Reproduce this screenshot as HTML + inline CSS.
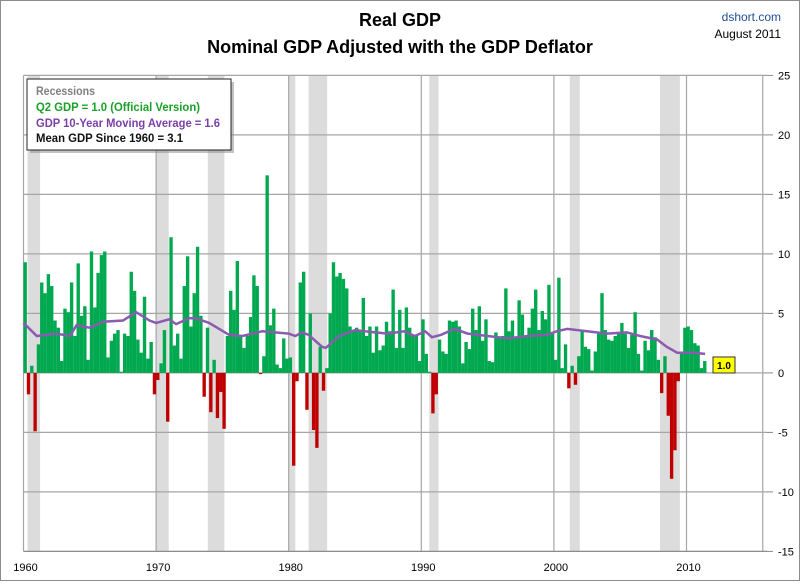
<!DOCTYPE html>
<html><head><meta charset="utf-8"><style>
body{margin:0;background:#fff;}
svg text{font-family:"Liberation Sans",sans-serif;}
</style></head><body>
<svg id="chart" width="800" height="581" xmlns="http://www.w3.org/2000/svg">
<rect x="0.5" y="0.5" width="799" height="580" fill="#fff" stroke="#8c8c8c"/>
<g id="rec"></g>
<g id="grid"></g>
<g id="bars"></g>
<path id="ma" fill="none" stroke="#8a5cb0" stroke-width="2.5"/>
<g id="axes"></g>
<text x="400" y="26" text-anchor="middle" font-size="18" font-weight="bold">Real GDP</text>
<text x="400" y="53" text-anchor="middle" font-size="18" font-weight="bold">Nominal GDP Adjusted with the GDP Deflator</text>
<text x="781" y="21" text-anchor="end" font-size="12" fill="#1f4e99">dshort.com</text>
<text x="781" y="38" text-anchor="end" font-size="12">August 2011</text>
<g>
<rect x="30" y="82" width="204" height="71" fill="#888" opacity="0.5"/>
<rect x="27" y="79" width="204" height="71" fill="#fff" stroke="#222" stroke-width="1"/>
<text x="36" y="95" font-size="12" font-weight="bold" fill="#7f7f7f" textLength="59" lengthAdjust="spacingAndGlyphs">Recessions</text>
<text x="36" y="111" font-size="12" font-weight="bold" fill="#1aa12a" textLength="164" lengthAdjust="spacingAndGlyphs">Q2 GDP = 1.0 (Official Version)</text>
<text x="36" y="127" font-size="12" font-weight="bold" fill="#7a3fa8" textLength="184" lengthAdjust="spacingAndGlyphs">GDP 10-Year Moving Average = 1.6</text>
<text x="36" y="142" font-size="12" font-weight="bold" fill="#111" textLength="147" lengthAdjust="spacingAndGlyphs">Mean GDP  Since 1960  = 3.1</text>
</g>
<g>
<rect x="713" y="357" width="22" height="16" fill="#ffff00" stroke="#333"/>
<text x="724" y="369" text-anchor="middle" font-size="10" font-weight="bold">1.0</text>
</g>
</svg>
<script>
const startYear = 1960;
const gdpValues = [
9.3,-1.8,0.6,-4.9, 2.4,7.6,6.7,8.3, 7.3,4.4,3.8,1.0, 5.4,5.1,7.6,3.1,
9.2,4.8,5.6,1.1, 10.2,5.5,8.4,9.9, 10.2,1.3,2.7,3.3, 3.6,0.1,3.3,3.1,
8.5,6.9,2.8,1.7, 6.4,1.2,2.6,-1.8, -0.6,0.8,3.6,-4.1, 11.4,2.3,3.3,1.2,
7.3,9.8,3.9,6.7, 10.6,4.8,-2.0,3.8, -3.3,1.1,-3.8,-1.6, -4.7,3.1,6.9,5.3,
9.4,3.1,2.1,3.1, 4.7,8.2,7.3,-0.1, 1.4,16.6,4.0,5.4, 0.7,0.4,2.9,1.2,
1.3,-7.8,-0.7,7.6, 8.5,-3.1,5.0,-4.8, -6.3,2.2,-1.5,0.4, 5.0,9.3,8.1,8.4,
7.9,7.1,3.9,3.5, 3.8,3.5,6.3,3.1, 3.9,1.7,3.9,1.9, 2.3,4.3,3.5,7.0,
2.1,5.3,2.1,5.5, 3.8,3.1,3.1,1.0, 4.5,1.6,0.1,-3.4, -1.8,2.8,1.8,1.6,
4.4,4.3,4.4,3.9, 0.8,2.6,2.0,5.4, 3.6,5.6,2.7,4.5, 1.0,0.9,3.4,2.9,
3.1,7.1,3.5,4.4, 2.9,6.1,4.9,3.1, 3.8,5.4,7.0,3.6, 5.2,4.5,7.4,3.3,
1.1,8.0,0.4,2.4, -1.3,0.6,-1.0,1.4, 3.5,2.2,2.0,0.2, 1.8,3.3,6.7,3.6,
2.8,2.7,3.1,3.4, 4.2,3.3,2.1,3.2, 5.1,1.6,0.2,2.7, 1.9,3.6,3.0,1.1,
-1.7,1.4,-3.6,-8.9, -6.5,-0.7,1.7,3.8, 3.9,3.6,2.5,2.3, 0.4,1.0
];
const maYears = [1960,1961,1962.5,1963.5,1964,1965,1966,1967.5,1968.5,1969.5,1970,1971,1971.5,1972.5,1973,1974,1975.5,1976.5,1978,1980,1980.5,1981,1981.5,1982.5,1982.8,1983.8,1985,1986.5,1987.5,1988.7,1989.5,1990.3,1990.8,1991.5,1992.5,1993.5,1995,1996.5,1998,1999.5,2000.2,2001,2002.5,2004,2005.5,2006.5,2007.8,2008.5,2009.3,2010.5,2011.4];
const maValues = [4.2,3.1,3.3,3.1,4.0,3.8,4.3,4.4,5.1,4.4,4.2,4.5,4.1,4.6,4.6,4.2,3.2,3.1,3.5,3.3,3.1,3.4,3.2,2.2,2.1,3.1,3.6,3.4,3.3,3.5,3.1,3.5,3.0,3.2,3.7,3.3,3.1,2.9,3.1,3.2,3.5,3.7,3.5,3.3,3.4,3.1,2.8,2.2,1.7,1.7,1.6];
const recessionStarts = [1960.3,1970.0,1973.9,1980.0,1981.5,1990.6,2001.2,2008.0];
const recessionEnds = [1961.25,1970.95,1975.15,1980.5,1982.9,1991.3,2001.95,2009.5];
const yTicks = [25,20,15,10,5,0,-5,-10,-15];
const xTickYears = [1960,1970,1980,1990,2000,2010];

const NS = "http://www.w3.org/2000/svg";
const X0 = 23.5, PX_YEAR = 13.26, RIGHT = 767;
const xs = y => X0 + (y - startYear) * PX_YEAR;
const ys = v => 372.9 - v * 11.9;
const TOP = ys(25), BOT = ys(-15);
function mk(tag, attrs, parent){ const e=document.createElementNS(NS,tag); for(const k in attrs) e.setAttribute(k,attrs[k]); parent.appendChild(e); return e; }

const rec = document.getElementById('rec');
recessionStarts.forEach((s,i)=>{
  const r = mk('rect',{x:xs(s),y:TOP,width:xs(recessionEnds[i])-xs(s),height:BOT-TOP,fill:'#dcdcdc'},rec);
  
  
});
const grid = document.getElementById('grid');
yTicks.forEach(t=>{
  const l = mk('line',{x1:X0,x2:RIGHT,y1:ys(t),y2:ys(t),stroke:'#a6a6a6','stroke-width':1.2},grid);
  
  
});
xTickYears.concat([2015.75]).forEach(yr=>{
  const l = mk('line',{x1:xs(yr),x2:xs(yr),y1:TOP,y2:BOT,stroke:'#a6a6a6','stroke-width':1.2},grid);
  
  
});
const bars = document.getElementById('bars');
const qw = PX_YEAR/4;
gdpValues.forEach((v,i)=>{
  const x = xs(startYear + i/4);
  const b = mk('rect',{x:x,width:qw+0.05,y:Math.min(ys(v),ys(0)),height:Math.abs(ys(v)-ys(0)),fill:v>=0?'#00a84f':'#c00000'},bars);
  
  
});
document.getElementById('ma').setAttribute('d', maYears.map((y,i)=>(i?'L':'M')+xs(y).toFixed(1)+','+ys(maValues[i]).toFixed(1)).join(''));
const axes = document.getElementById('axes');
mk('line',{x1:X0,x2:RIGHT,y1:BOT,y2:BOT,stroke:'#888'},axes);
yTicks.forEach(t=>{
  mk('line',{x1:RIGHT,x2:RIGHT+6,y1:ys(t),y2:ys(t),stroke:'#888'},axes);
  const tx = mk('text',{x:778,y:ys(t)+4,'font-size':11},axes);
  tx.textContent = t;
  
  
});
xTickYears.forEach(yr=>{
  const tx = mk('text',{x:xs(yr)+2,y:571,'font-size':11,'text-anchor':'middle'},axes);
  tx.textContent = yr;
  
  
});
</script>
</body></html>
